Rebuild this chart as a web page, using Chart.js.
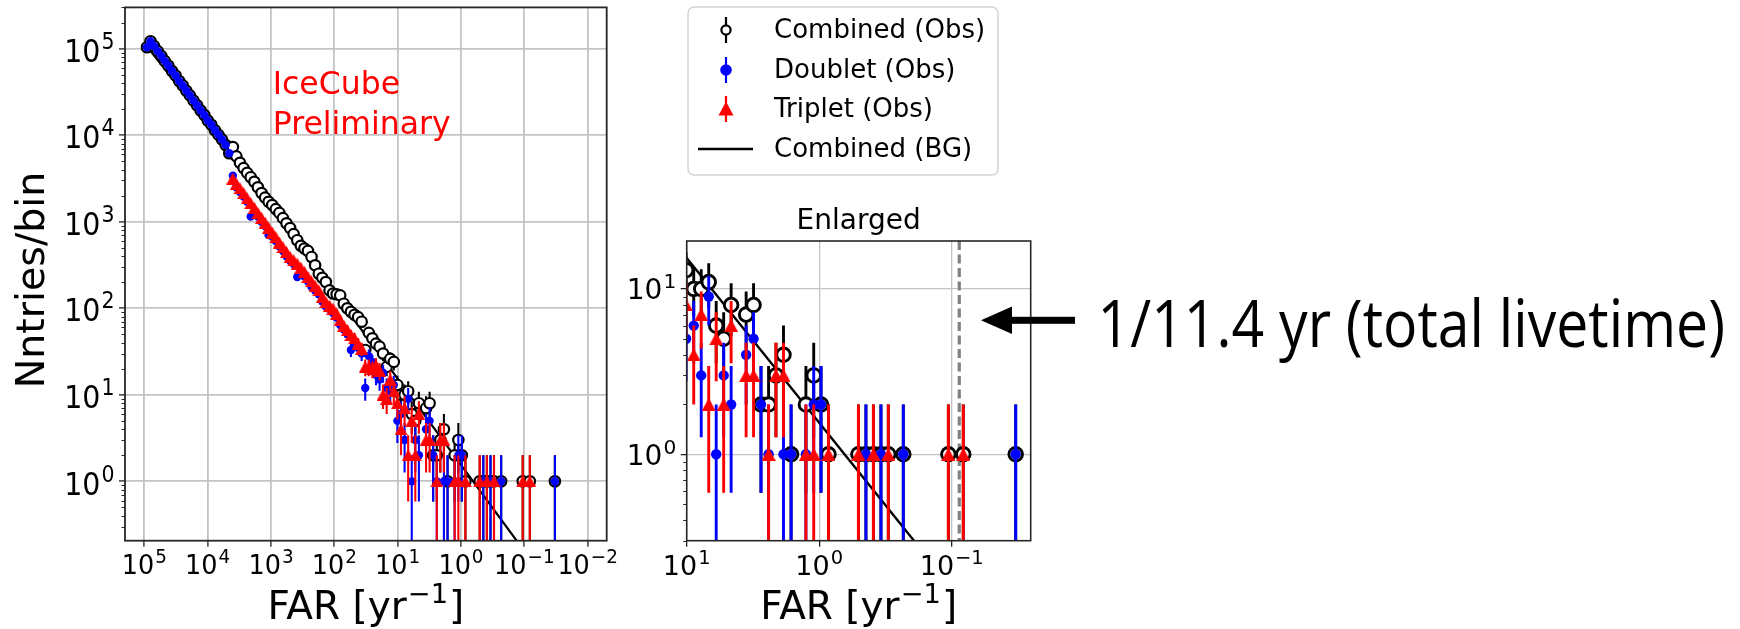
<!DOCTYPE html>
<html>
<head>
<meta charset="utf-8">
<title>FAR distribution</title>
<script src="https://cdn.jsdelivr.net/npm/chart.js@4.4.1/dist/chart.umd.min.js"></script>
<style>
  html, body { margin: 0; padding: 0; background: #fff; }
  #page { position: relative; width: 1740px; height: 629px; overflow: hidden; }
  #page canvas { position: absolute; top: 0; }
  #mainPlot { left: 0; }
  #zoomPlot { left: 600px; }
</style>
</head>
<body>
<div id="page">
  <canvas id="mainPlot" width="640" height="629"></canvas>
  <canvas id="zoomPlot" width="1140" height="629"></canvas>
</div>
<script>
// Values. FAR bin centres [1/yr], only bins that hold entries.
const farBins = [
  90900, 79800, 70100, 61500, 54000, 47400, 41600, 36600, 32100, 28200,
  24700, 21700, 19100, 16700, 14700, 12900, 11300, 9950, 8740, 7670,
  6740, 5920, 5190, 4560, 4000, 3520, 3090, 2710, 2380, 2090,
  1830, 1610, 1410, 1240, 1090, 957, 840, 738, 648, 569,
  499, 439, 385, 338, 297, 261, 229, 201, 176, 155,
  136, 119, 105, 92.0, 80.8, 71.0, 62.3, 54.7, 48.0, 42.2,
  37.0, 32.5, 28.5, 25.1, 22.0, 19.3, 17.0, 14.9, 13.1, 11.5,
  10.1, 8.85, 7.77, 6.82, 5.99, 5.26, 4.62, 3.56, 3.13, 2.75,
  2.41, 2.12, 1.86, 1.63, 1.26, 1.10, 0.969, 0.851, 0.506, 0.444,
  0.390, 0.342, 0.301, 0.232, 0.106, 0.0818, 0.0329
];
const combinedObs = [
  104000, 122000, 107000, 93500, 82600, 71800, 63500, 55200, 48900, 42400,
  37600, 32600, 28900, 25100, 22200, 19300, 17100, 14800, 13200, 11400,
  10100, 8900, 7700, 6200, 7300, 5700, 4800, 4170, 3670, 3270,
  2900, 2500, 2150, 1900, 1700, 1560, 1400, 1265, 1100, 960,
  845, 720, 612, 527, 490, 460, 392, 314, 251, 225,
  201, 161, 148, 145, 141, 113, 100, 91, 84, 79,
  70, 33, 52, 45, 39, 36, 30, 21, 26, 24,
  13, 10, 10, 11, 6, 5, 8, 7, 8, 2,
  2, 3, 4, 1, 2, 3, 2, 1, 1, 1,
  1, 1, 1, 1, 1, 1, 1
];
const doubletObs = [
  104000, 122000, 107000, 93500, 82600, 71800, 63500, 55200, 48900, 42400,
  37600, 32600, 28900, 25100, 22200, 19300, 17100, 14800, 13200, 11400,
  10100, 8900, 7700, 6200, 3400, 2500, 2200, 1950, 1700, 1150,
  1320, 1150, 1000, 890, 700, 680, 600, 520, 460, 400,
  355, 325, 230, 265, 235, 205, 176, 160, 145, 120,
  105, 98, 88, 78, 64, 57, 50, 33, 40, 35,
  30, 12, 28, 24, 17, 15, 18, 12, 11, 13,
  5, 6, 3, 9, 1, 3, 2, 4, 5, 2,
  1, null, 1, 1, 1, 2, 2, null, null, 1,
  null, 1, null, 1, null, null, 1
];
const tripletObs = [
  null, null, null, null, null, null, null, null, null, null,
  null, null, null, null, null, null, null, null, null, null,
  null, null, null, null, 3160, 2750, 2430, 2140, 1860, 1640,
  1445, 1260, 1110, 977, 851, 750, 661, 575, 507, 447,
  392, 359, 328, 295, 263, 230, 204, 182, 161, 135,
  118, 107, 99, 87, 73, 63, 56, 49, 45, 39,
  34, 21, 21, 20, 22, 19, 10, 9, 15, 11,
  8, 4, 7, 2, 5, 2, 6, 3, 3, null,
  1, 3, 3, null, 1, 1, null, 1, 1, null,
  1, null, 1, null, 1, 1, null
];
// background expectation (straight line in log-log)
const bgFar = [90900, 10000, 1000, 100, 10, 1, 0.1, 0.01];
const bgCount = [106000, 14000, 1500, 150, 15.4, 1.55, 0.156, 0.0157];
const livetimeYears = 11.4;

const mainXTicks = [1e-2, 1e-1, 1, 10, 100, 1e3, 1e4, 1e5];
const mainYTicks = [1, 10, 100, 1e3, 1e4, 1e5];
const zoomXTicks = [1e-1, 1, 10];
const zoomYTicks = [1, 10];

Chart.defaults.font.family = '"DejaVu Sans"';
Chart.defaults.color = '#000';
const FONT = '"DejaVu Sans"';

function toPoints(xs, ys) {
  const out = [];
  xs.forEach((x, i) => { if (ys[i] != null) out.push({ x: x, y: ys[i] }); });
  return out;
}

function triangle(w, h, color) {
  const c = document.createElement('canvas');
  c.width = w; c.height = h;
  const g = c.getContext('2d');
  g.fillStyle = color;
  g.beginPath();
  g.moveTo(w / 2, 0); g.lineTo(w, h); g.lineTo(0, h);
  g.closePath(); g.fill();
  return c;
}

// "10" with a raised exponent, like matplotlib mathtext
function drawPow(ctx, v, x, baseline, size, align, stretch) {
  const exp = String(Math.round(Math.log10(v))).replace('-', '\u2212');
  const sup = size * 0.72;
  ctx.font = size + 'px ' + FONT;
  const wb = ctx.measureText('10').width;
  ctx.font = sup + 'px ' + FONT;
  const we = ctx.measureText(exp).width;
  const total = wb + we + 1;
  const x0 = align === 'center' ? x - total / 2 : x - total;
  ctx.save();
  ctx.translate(x0, baseline);
  ctx.scale(1, stretch || 1);
  ctx.textAlign = 'left'; ctx.textBaseline = 'alphabetic';
  ctx.font = size + 'px ' + FONT;
  ctx.fillText('10', 0, 0);
  ctx.font = sup + 'px ' + FONT;
  ctx.fillText(exp, wb + 1, -size * 0.4);
  ctx.restore();
}

// axis label with a superscript unit
function drawFarLabel(ctx, cx, baseline, size) {
  const pre = 'FAR [yr', sup = '\u22121', post = ']';
  const ss = size * 0.7;
  ctx.font = size + 'px ' + FONT;
  const w1 = ctx.measureText(pre).width, w3 = ctx.measureText(post).width;
  ctx.font = ss + 'px ' + FONT;
  const w2 = ctx.measureText(sup).width;
  let x = cx - (w1 + w2 + w3 + 2) / 2;
  ctx.textAlign = 'left'; ctx.textBaseline = 'alphabetic';
  ctx.font = size + 'px ' + FONT;
  ctx.fillText(pre, x, baseline);
  ctx.font = ss + 'px ' + FONT;
  ctx.fillText(sup, x + w1 + 1, baseline - size * 0.42);
  ctx.font = size + 'px ' + FONT;
  ctx.fillText(post, x + w1 + w2 + 2, baseline);
}

// vertical sqrt(N) error bars, drawn just under each dataset's markers
const errorBars = {
  id: 'errorBars',
  beforeDatasetDraw(chart, args) {
    const ds = chart.data.datasets[args.index];
    if (!ds.errColor) return;
    const { ctx, chartArea: a } = chart;
    const xs = chart.scales.x, ys = chart.scales.y;
    ctx.save();
    ctx.beginPath(); ctx.rect(a.left, a.top, a.right - a.left, a.bottom - a.top); ctx.clip();
    ctx.strokeStyle = ds.errColor; ctx.lineWidth = ds.errWidth;
    ctx.beginPath();
    ds.data.forEach(p => {
      const px = xs.getPixelForValue(p.x);
      const e = Math.sqrt(p.y);
      const top = ys.getPixelForValue(p.y + e);
      const bot = p.y - e > 1e-9 ? ys.getPixelForValue(p.y - e) : a.bottom + 10;
      ctx.moveTo(px, top); ctx.lineTo(px, bot);
    });
    ctx.stroke();
    ctx.restore();
  }
};

// full box around the axes, minor y ticks and the power-of-ten tick labels
function axesFrame(o) {
  return {
    id: 'axesFrame',
    afterDatasetsDraw(chart) {
      const { ctx, chartArea: a } = chart;
      const xs = chart.scales.x, ys = chart.scales.y;
      ctx.save();
      ctx.strokeStyle = '#262626'; ctx.lineWidth = o.frameWidth;
      ctx.strokeRect(a.left, a.top, a.right - a.left, a.bottom - a.top);
      ctx.lineWidth = 1.1; ctx.beginPath();
      for (let d = Math.floor(Math.log10(ys.min)); d <= Math.ceil(Math.log10(ys.max)); d++) {
        for (let m = 2; m <= 9; m++) {
          const v = m * Math.pow(10, d);
          if (v < ys.min || v > ys.max) continue;
          const py = Math.round(ys.getPixelForValue(v)) + 0.5;
          ctx.moveTo(a.left - 3.5, py); ctx.lineTo(a.left, py);
        }
      }
      ctx.stroke();
      ctx.fillStyle = '#000';
      xs.ticks.forEach(t => drawPow(ctx, t.value, xs.getPixelForValue(t.value), o.xBaseline, o.xFont, 'center', o.xStretch));
      ys.ticks.forEach(t => drawPow(ctx, t.value, a.left - 10.5, ys.getPixelForValue(t.value) + o.yShift, o.yFont, 'right', o.yStretch));
      ctx.restore();
    }
  };
}

function makeScales(o) {
  const gridOpts = { color: o.gridColor, lineWidth: o.gridWidth, drawTicks: true, tickLength: 6, tickColor: '#222', tickWidth: 1.3 };
  return {
    x: {
      type: 'logarithmic', reverse: true, min: o.xMin, max: o.xMax,
      afterBuildTicks: s => { s.ticks = o.xTicks.map(v => ({ value: v })); },
      afterFit: s => { s.height = 88.3; },
      ticks: { display: false, autoSkip: false }, grid: gridOpts, border: { display: false }
    },
    y: {
      type: 'logarithmic', min: o.yMin, max: o.yMax,
      afterBuildTicks: s => { s.ticks = o.yTicks.map(v => ({ value: v })); },
      afterFit: s => { s.width = o.yWidth; },
      ticks: { display: false, autoSkip: false }, grid: gridOpts, border: { display: false }
    }
  };
}

function makeDatasets(o) {
  return [
    { label: 'Combined (BG)', data: toPoints(bgFar, bgCount), showLine: true, borderColor: '#000',
      borderWidth: o.bgWidth, pointRadius: 0, tension: 0, order: 4, clip: 0 },
    { label: 'Combined (Obs)', data: toPoints(farBins, combinedObs), pointRadius: o.combR, pointBorderWidth: o.combBorder,
      pointBackgroundColor: '#fff', pointBorderColor: '#000', errColor: '#000', errWidth: o.errWidth, order: 3, clip: 0 },
    { label: 'Doublet (Obs)', data: toPoints(farBins, doubletObs), pointRadius: o.doubR, pointBorderWidth: 0,
      pointBackgroundColor: '#0000ff', pointBorderColor: '#0000ff', errColor: '#0000ff', errWidth: o.errWidth, order: 2, clip: 0 },
    { label: 'Triplet (Obs)', data: toPoints(farBins, tripletObs), pointRadius: 6, pointStyle: triangle(o.triW, o.triH, '#ff0000'),
      pointBackgroundColor: '#ff0000', errColor: '#ff0000', errWidth: o.errWidth, order: 1, clip: 0 }
  ];
}

function baseOptions(padding, scales) {
  return {
    responsive: false, animation: false, devicePixelRatio: 1,
    layout: { padding: padding },
    plugins: { legend: { display: false }, tooltip: { enabled: false } },
    events: [],
    scales: scales
  };
}

// ---- main plot ----
const mainDecor = {
  id: 'mainDecor',
  afterDraw(chart) {
    const { ctx, chartArea: a } = chart;
    ctx.save();
    ctx.fillStyle = '#000';
    drawFarLabel(ctx, (a.left + a.right) / 2, 619, 39);
    ctx.save();
    ctx.font = '39.5px ' + FONT;
    ctx.textAlign = 'center'; ctx.textBaseline = 'alphabetic';
    ctx.translate(43.5, 280); ctx.rotate(-Math.PI / 2);
    ctx.fillText('Nntries/bin', 0, 0);
    ctx.restore();
    ctx.fillStyle = '#ff0000';
    ctx.font = '31.5px ' + FONT;
    ctx.textAlign = 'left';
    ctx.fillText('IceCube', 272.7, 94);
    ctx.fillText('Preliminary', 272.7, 134);
    ctx.restore();
  }
};

new Chart(document.getElementById('mainPlot'), {
  type: 'scatter',
  data: { datasets: makeDatasets({ bgWidth: 2.2, combR: 5.2, combBorder: 2.2, doubR: 4.2, triW: 13, triH: 12, errWidth: 2.1 }) },
  options: baseOptions({ left: 0, top: 6.7, right: 33.3, bottom: 0 }, makeScales({
    xMin: 0.005, xMax: 2.02e5, yMin: 0.206, yMax: 3.0e5, xTicks: mainXTicks, yTicks: mainYTicks,
    yWidth: 125, gridColor: '#c4c4c4', gridWidth: 1.8
  })),
  plugins: [errorBars, axesFrame({ frameWidth: 1.8, xFont: 25.5, xBaseline: 573.5, xStretch: 1.04,
    yFont: 28.5, yShift: 13.2, yStretch: 1.14 }), mainDecor]
});

// ---- enlarged plot, legend and annotation ----
const zoomDecor = {
  id: 'zoomDecor',
  beforeDatasetsDraw(chart) {
    const { ctx, chartArea: a } = chart;
    const px = chart.scales.x.getPixelForValue(1 / livetimeYears);
    ctx.save();
    ctx.strokeStyle = '#808080'; ctx.lineWidth = 3.2; ctx.setLineDash([9, 4.5]);
    ctx.beginPath(); ctx.moveTo(px, a.top); ctx.lineTo(px, a.bottom); ctx.stroke();
    ctx.restore();
  },
  afterDraw(chart) {
    const { ctx, chartArea: a } = chart;
    const cx = (a.left + a.right) / 2;
    ctx.save();
    ctx.fillStyle = '#000';
    drawFarLabel(ctx, cx, 619, 39);
    ctx.textAlign = 'center'; ctx.textBaseline = 'alphabetic';
    ctx.font = '28px ' + FONT;
    ctx.fillText('Enlarged', cx, 229);

    // legend box
    const lx = 88, ly = 7, lw = 310, lh = 168, r = 6;
    ctx.beginPath();
    ctx.moveTo(lx + r, ly); ctx.arcTo(lx + lw, ly, lx + lw, ly + lh, r); ctx.arcTo(lx + lw, ly + lh, lx, ly + lh, r);
    ctx.arcTo(lx, ly + lh, lx, ly, r); ctx.arcTo(lx, ly, lx + lw, ly, r); ctx.closePath();
    ctx.fillStyle = 'rgba(255,255,255,0.8)'; ctx.fill();
    ctx.strokeStyle = '#d4d4d4'; ctx.lineWidth = 1.5; ctx.stroke();

    const ds = chart.data.datasets;
    const rows = [
      { d: ds[1], y: 30 }, { d: ds[2], y: 70 }, { d: ds[3], y: 109 }, { d: ds[0], y: 149 }
    ];
    const sx = 126;
    rows.forEach(row => {
      const d = row.d, y = row.y;
      if (d.errColor) {
        ctx.strokeStyle = d.errColor; ctx.lineWidth = 2.2;
        ctx.beginPath(); ctx.moveTo(sx, y - 13); ctx.lineTo(sx, y + 13); ctx.stroke();
      }
      if (d.label === 'Combined (Obs)') {
        ctx.beginPath(); ctx.arc(sx, y, 4.6, 0, Math.PI * 2);
        ctx.fillStyle = '#fff'; ctx.fill(); ctx.strokeStyle = '#000'; ctx.lineWidth = 2.2; ctx.stroke();
      } else if (d.label === 'Doublet (Obs)') {
        ctx.beginPath(); ctx.arc(sx, y, 5.8, 0, Math.PI * 2); ctx.fillStyle = '#0000ff'; ctx.fill();
      } else if (d.label === 'Triplet (Obs)') {
        ctx.beginPath(); ctx.moveTo(sx, y - 7.5); ctx.lineTo(sx + 7.5, y + 6.5); ctx.lineTo(sx - 7.5, y + 6.5); ctx.closePath();
        ctx.fillStyle = '#ff0000'; ctx.fill();
      } else {
        ctx.strokeStyle = '#000'; ctx.lineWidth = 2.5;
        ctx.beginPath(); ctx.moveTo(98, y); ctx.lineTo(153, y); ctx.stroke();
      }
      ctx.fillStyle = '#000'; ctx.font = '26px ' + FONT;
      ctx.textAlign = 'left'; ctx.textBaseline = 'middle';
      ctx.fillText(d.label, 174, y + 1);
    });

    // arrow pointing at the livetime line
    ctx.fillStyle = '#000';
    ctx.fillRect(408, 316.8, 67, 7);
    ctx.beginPath(); ctx.moveTo(381, 320.3); ctx.lineTo(412, 306.5); ctx.lineTo(412, 334); ctx.closePath(); ctx.fill();

    const note = '1/' + livetimeYears + ' yr (total livetime)';
    ctx.font = '65px "Open Sans"';
    ctx.textAlign = 'left'; ctx.textBaseline = 'alphabetic';
    const w = ctx.measureText(note).width;
    ctx.translate(497.5, 347); ctx.scale(627.5 / w, 1);
    ctx.fillText(note, 0, 0);
    ctx.restore();
  }
};

new Chart(document.getElementById('zoomPlot'), {
  type: 'scatter',
  data: { datasets: makeDatasets({ bgWidth: 2.4, combR: 6.8, combBorder: 2.9, doubR: 5.2, triW: 14, triH: 13, errWidth: 2.9 }) },
  options: baseOptions({ left: 0, top: 241, right: 709.3, bottom: 0 }, makeScales({
    xMin: 0.02535, xMax: 10, yMin: 0.306, yMax: 19.5, xTicks: zoomXTicks, yTicks: zoomYTicks,
    yWidth: 86.7, gridColor: '#c4c4c4', gridWidth: 1.3
  })),
  plugins: [errorBars, axesFrame({ frameWidth: 1.6, xFont: 27, xBaseline: 574.5, xStretch: 1,
    yFont: 28, yShift: 10.5, yStretch: 1 }), zoomDecor]
});
</script>
</body>
</html>
